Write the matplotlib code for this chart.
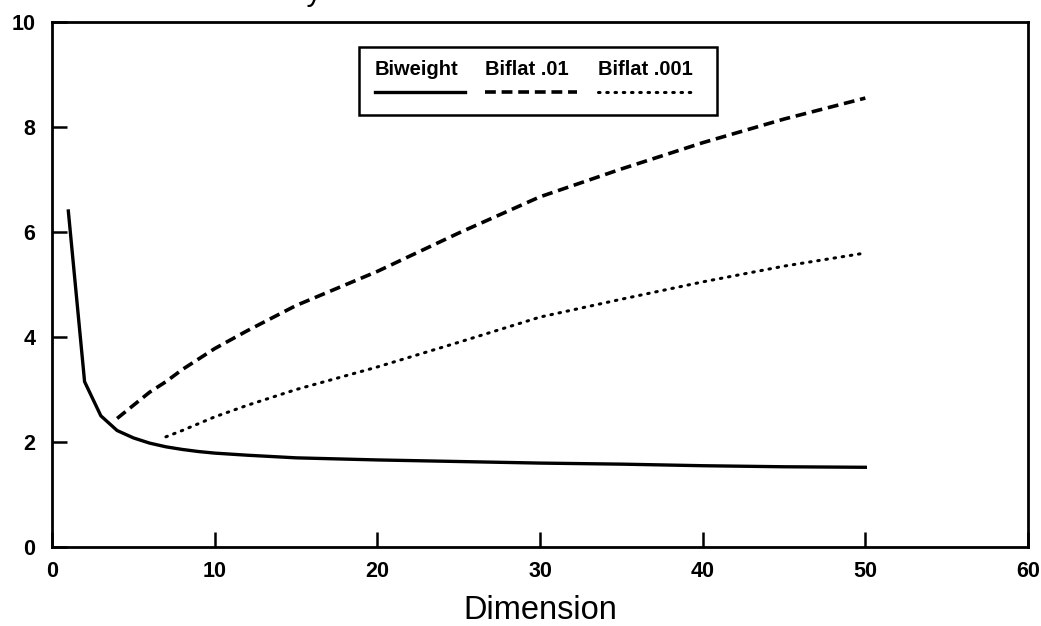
import matplotlib
matplotlib.use("Agg")
import matplotlib.pyplot as plt
import matplotlib.patches as mpatches

plt.rcParams["font.family"] = ["Liberation Sans", "DejaVu Sans"]

# Biweight efficiency curve
dim_biweight = [1, 2, 3, 4, 5, 6, 7, 8, 9, 10, 12, 15, 20, 25, 30, 35, 40, 45, 50]
eff_biweight = [6.4, 3.15, 2.5, 2.22, 2.08, 1.98, 1.91, 1.86, 1.82, 1.79, 1.75, 1.7,
                1.66, 1.63, 1.6, 1.58, 1.55, 1.53, 1.52]

# Biflat .01
dim_biflat01 = [4, 5, 6, 7, 8, 10, 12, 15, 20, 25, 30, 35, 40, 45, 50]
eff_biflat01 = [2.45, 2.7, 2.95, 3.15, 3.38, 3.78, 4.12, 4.6, 5.25, 5.98, 6.67, 7.2,
                7.7, 8.15, 8.55]

# Biflat .001
dim_biflat001 = [7, 8, 10, 12, 15, 20, 25, 30, 35, 40, 45, 50]
eff_biflat001 = [2.1, 2.22, 2.48, 2.7, 3.0, 3.43, 3.9, 4.38, 4.72, 5.05, 5.35, 5.6]

x_ticks = [0, 10, 20, 30, 40, 50, 60]
y_ticks = [0, 2, 4, 6, 8, 10]

solid_style = {"lw": 2.4, "solid_joinstyle": "round"}
dash_style = {"lw": 2.6, "dashes": (3.0, 1.6)}
dot_style = {"lw": 2.2, "dashes": (0.5, 2.2), "dash_capstyle": "round"}

fig = plt.figure(figsize=(10.41, 6.26), dpi=100)
ax = fig.add_axes([0.050, 0.126, 0.9375, 0.839])

ax.plot(dim_biweight, eff_biweight, color="black", **solid_style)
ax.plot(dim_biflat01, eff_biflat01, color="black", **dash_style)
ax.plot(dim_biflat001, eff_biflat001, color="black", **dot_style)

ax.set_xlim(0, 60)
ax.set_ylim(0, 10)
ax.set_xticks(x_ticks)
ax.set_yticks(y_ticks)
ax.tick_params(direction="in", length=11, width=1.8, labelsize=15.5, top=False, right=False)
ax.tick_params(axis="y", pad=12)
ax.tick_params(axis="x", pad=10)
for lab in ax.get_xticklabels() + ax.get_yticklabels():
    lab.set_fontweight("bold")
for sp in ax.spines.values():
    sp.set_linewidth(2.0)

ax.set_xlabel("Dimension", fontsize=23.5, labelpad=9)

# partly visible title at the very top (cut by the page edge in the original)
fig.text(0.185, 1.0, "Efficiency", fontsize=22, ha="left", va="baseline")

# legend drawn by hand: labels above their line samples
box = mpatches.Rectangle((0.3146, 0.823), 0.3668, 0.129, transform=ax.transAxes,
                         fill=False, lw=1.8, ec="black")
ax.add_patch(box)
entries = [
    ("Biweight", 0.331, 0.423, solid_style),
    ("Biflat .01", 0.4436, 0.5379, dash_style),
    ("Biflat .001", 0.5594, 0.6557, dot_style),
]
for label, x0, x1, style in entries:
    ax.text(x0, 0.899, label, transform=ax.transAxes, fontsize=14.5,
            fontweight="bold", ha="left", va="baseline")
    ax.plot([x0, x1], [0.867, 0.867], transform=ax.transAxes, color="black", **style)

fig.savefig("out.png", dpi=100)
